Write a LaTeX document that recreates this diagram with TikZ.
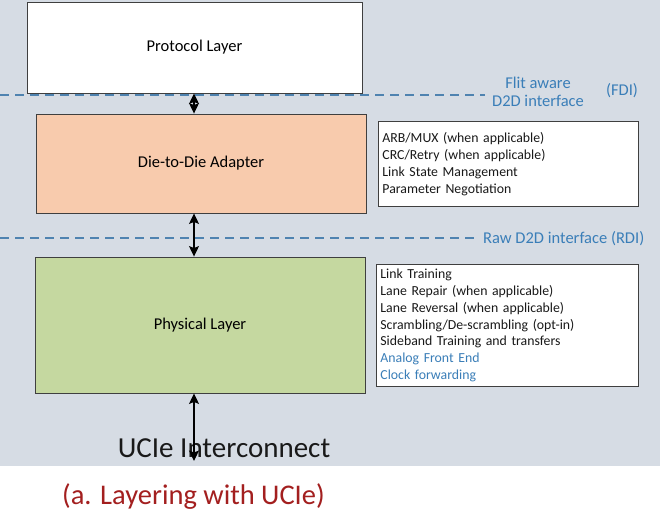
\documentclass[tikz,border=0pt]{standalone}
\usepackage{fontspec}
\setmainfont{Carlito}
\usetikzlibrary{arrows.meta}
\definecolor{bg}{HTML}{D6DCE4}
\definecolor{peach}{HTML}{F8CBAD}
\definecolor{leaf}{HTML}{C5D8A0}
\definecolor{dashblue}{HTML}{4F83B0}
\definecolor{lblue}{HTML}{3A7EB8}
\definecolor{capred}{HTML}{A31F1F}
\definecolor{edge}{HTML}{3F3F3F}
\tikzset{
  layer/.style={draw=edge, line width=0.9pt, font=\fontsize{16.5}{19}\selectfont, text=black},
  infobox/.style={draw=edge, line width=0.8pt, fill=white, align=left, anchor=north west,
    inner xsep=4pt, inner ysep=3pt, font=\fontsize{13.8}{16.9}\selectfont, text=black!90},
  dashline/.style={draw=dashblue, line width=1.4pt, dash pattern=on 9pt off 6pt},
  biarrow/.style={draw=black, line width=1.1pt, {Stealth[length=10.5pt,width=10pt,inset=2pt]}-{Stealth[length=10.5pt,width=10pt,inset=2pt]}},
  iflabel/.style={text=lblue, font=\fontsize{16.5}{19}\selectfont, inner sep=0pt}
}
\begin{document}
\begin{tikzpicture}[x=1pt,y=-1pt]
\useasboundingbox (0,0) rectangle (660,517);
\fill[white] (0,0) rectangle (660,517);
\fill[bg] (0,0) rectangle (660,466);

% dashed interface lines
\coordinate (fdiL) at (0,95);
\coordinate (fdiR) at (485,95);
\draw[dashline] (fdiL) -- (fdiR);
\coordinate (rdiL) at (0,238);
\coordinate (rdiR) at (478,238);
\draw[dashline] (rdiL) -- (rdiR);

% layers
\node[layer, fill=white, minimum width=335pt, minimum height=91pt] (proto) at (194.5,47.5) {Protocol Layer};
\node[layer, fill=peach, minimum width=330pt, minimum height=99pt] (adapter) at (201,163.5) {Die-to-Die Adapter};
\node[layer, fill=leaf, minimum width=330pt, minimum height=136pt] (phys) at (200,325) {Physical Layer};

% info boxes
\node[infobox, text width=252pt, minimum height=85pt] (info1) at (378,121) {ARB/MUX (when applicable)\\CRC/Retry (when applicable)\\Link State Management\\Parameter Negotiation};
\node[infobox, text width=254pt, minimum height=122pt] (info2) at (376,264) {Link Training\\Lane Repair (when applicable)\\Lane Reversal (when applicable)\\Scrambling/De-scrambling (opt-in)\\Sideband Training and transfers\\\textcolor{lblue}{Analog Front End}\\\textcolor{lblue}{Clock forwarding}};

% interface labels
\node[iflabel] (flit) at (538,83) {Flit aware};
\node[iflabel] (d2d) at (538,101) {D2D interface};
\node[iflabel] (fdi) at (622,91) {(FDI)};
\node[iflabel, anchor=west] (rdi) at (483,239) {Raw D2D interface (RDI)};

% UCIe interconnect
\node[font=\fontsize{29}{34}\selectfont, text=black!90, inner sep=0pt] (ucie) at (224,448) {UCIe Interconnect};
\coordinate (icend) at (194,461);

% arrows
\draw[biarrow] (proto.south -| 194,0) -- (194,0 |- adapter.north);
\draw[biarrow] (194,0 |- adapter.south) -- (194,0 |- phys.north);
\draw[biarrow] (194,0 |- phys.south) -- (icend);

% caption
\node[font=\fontsize{28.5}{33}\selectfont, text=capred, inner sep=0pt, anchor=west] (cap) at (62,497) {(a. Layering with UCIe)};
\end{tikzpicture}
\end{document}
